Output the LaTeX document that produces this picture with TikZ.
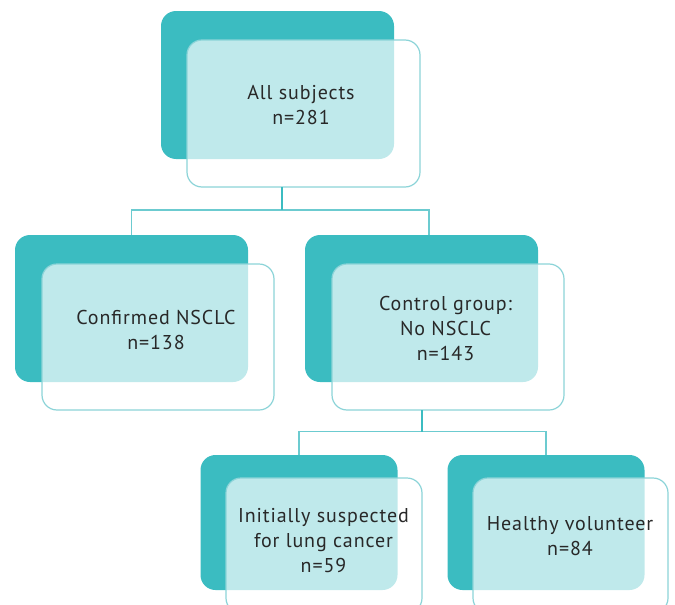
\documentclass[tikz,border=0pt]{standalone}
\usepackage{fontspec}
\setmainfont{PT Sans}[LetterSpace=4.5]
\definecolor{tealc}{RGB}{59,188,193}
\definecolor{tealline}{RGB}{108,203,208}
\definecolor{tealedge}{RGB}{140,212,216}
\definecolor{txt}{RGB}{40,40,40}
\begin{document}
\begin{tikzpicture}[x=1pt,y=-1pt,
  backbox/.style={fill=tealc, draw=none, rounded corners=15pt, inner sep=0pt},
  frontbox/.style={fill=white, fill opacity=0.68, draw=tealedge, draw opacity=1, line width=1.2pt, rounded corners=15pt, inner sep=0pt},
  label/.style={text=txt, align=center, font=\fontsize{20}{25}\selectfont, inner sep=0pt},
  stem/.style={draw=tealc, line width=1.5pt},
  conn/.style={draw=tealline, line width=1.5pt}]
\useasboundingbox (0,0) rectangle (675,605);
\begin{scope}
\clip (0,0) rectangle (675,605);
% back boxes
\node[backbox, minimum width=233pt, minimum height=148pt] (b1) at (277.5,85) {};
\node[backbox, minimum width=233pt, minimum height=147pt] (b2) at (131.5,308.5) {};
\node[backbox, minimum width=233pt, minimum height=147pt] (b3) at (421.5,308.5) {};
\node[backbox, minimum width=197pt, minimum height=135pt] (b4) at (299,522.5) {};
\node[backbox, minimum width=197pt, minimum height=135pt] (b5) at (546,522.5) {};
% front boxes
\node[frontbox, minimum width=233pt, minimum height=147pt] (f1) at (303.5,113.5) {};
\node[frontbox, minimum width=232pt, minimum height=146pt] (f2) at (158,337) {};
\node[frontbox, minimum width=232pt, minimum height=146pt] (f3) at (448,337) {};
\node[frontbox, minimum width=196pt, minimum height=135pt] (f4) at (324,545.5) {};
\node[frontbox, minimum width=195pt, minimum height=135pt] (f5) at (570.5,545.5) {};
\end{scope}
% texts
\node[label] (t1) at (301,105.5) {All subjects\\n=281};
\node[label] (t2) at (156,330) {Confirmed NSCLC\\n=138};
\node[label] (t3) at (445.5,328) {Control group:\\No NSCLC\\n=143};
\node[label] (t4) at (323.5,540.5) {Initially suspected\\for lung cancer\\n=59};
\node[label] (t5) at (570,536) {Healthy volunteer\\n=84};
% connectors
\coordinate (s1) at (282,187);
\coordinate (h1) at (282,210);
\coordinate (c3) at (429,235);
\draw[conn] (b2.north) |- (h1) -| (c3);
\draw[stem] (s1) -- (h1);
\coordinate (s2) at (422,410);
\coordinate (h2) at (422,431.5);
\draw[conn] (b4.north) |- (h2) -| (b5.north);
\draw[stem] (s2) -- (h2);
\end{tikzpicture}
\end{document}
